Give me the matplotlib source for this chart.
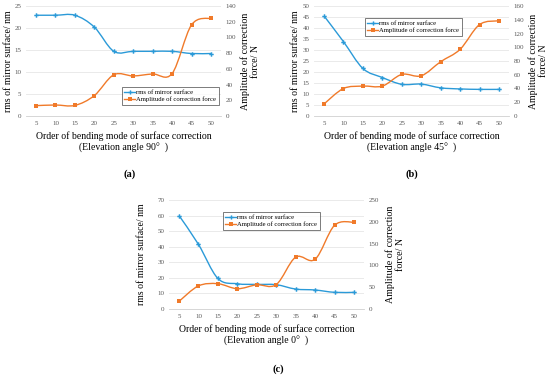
import matplotlib
matplotlib.use("Agg")
import matplotlib.pyplot as plt
import numpy as np
from matplotlib.path import Path
from matplotlib.patches import PathPatch
from matplotlib.lines import Line2D

plt.rcParams['font.family'] = ['Liberation Serif', 'DejaVu Serif']

orders = [5, 10, 15, 20, 25, 30, 35, 40, 45, 50]

rms_a = [22.9, 22.9, 22.9, 20.2, 14.7, 14.7, 14.7, 14.7, 14.2, 14.2]
force_a = [13.2, 14.0, 13.5, 26.0, 52.5, 51.0, 53.5, 54.0, 116.0, 124.5]
rms_b = [45.5, 33.8, 21.6, 17.5, 14.4, 14.5, 12.8, 12.3, 12.1, 12.1]
force_b = [17.5, 40.0, 43.5, 43.5, 60.5, 58.5, 79.0, 97.0, 133.0, 138.5]
rms_c = [60.0, 41.5, 19.6, 16.2, 15.8, 15.6, 12.8, 12.2, 10.7, 10.7]
force_c = [17.5, 53.0, 58.0, 46.5, 55.5, 56.0, 119.0, 114.0, 192.0, 199.0]

left_lims = [(0, 25, 5), (0, 50, 5), (0, 70, 10)]
right_lims = [(0, 140, 20), (0, 160, 20), (0, 250, 50)]
angles = ['90', '45', '0']
panel_labels = ['(a)', '(b)', '(c)']

BLUE = '#2B9AD8'
ORANGE = '#F07A2A'
GRID = '#E6E6E6'
TICKC = '#595959'

W, H = 550, 376
fig = plt.figure(figsize=(5.5, 3.76), dpi=100)


def smooth_path(xs, ys):
    xs = np.asarray(xs, float)
    ys = np.asarray(ys, float)
    n = len(xs)
    verts = [(xs[0], ys[0])]
    codes = [Path.MOVETO]
    for i in range(n - 1):
        p0 = np.array([xs[max(i - 1, 0)], ys[max(i - 1, 0)]])
        p1 = np.array([xs[i], ys[i]])
        p2 = np.array([xs[i + 1], ys[i + 1]])
        p3 = np.array([xs[min(i + 2, n - 1)], ys[min(i + 2, n - 1)]])
        c1 = p1 + (p2 - p0) / 6.0
        c2 = p2 - (p3 - p1) / 6.0
        verts += [tuple(c1), tuple(c2), tuple(p2)]
        codes += [Path.CURVE4] * 3
    return Path(verts, codes)


def make_panel(rect, rms, force, llim, rlim, angle, plabel, legpos, ylab_x, rlab_x, xl_y, pl_xy, rfs):
    x0, y0, x1, y1 = rect
    ax = fig.add_axes([x0 / W, 1 - y1 / H, (x1 - x0) / W, (y1 - y0) / H])
    ax2 = ax.twinx()
    xs = np.arange(len(orders))
    ax.set_xlim(-0.5, len(orders) - 0.5)
    ax.set_ylim(llim[0], llim[1])
    ax.set_yticks(np.arange(llim[0], llim[1] + 0.1, llim[2]))
    ax2.set_ylim(rlim[0], rlim[1])
    ax2.set_yticks(np.arange(rlim[0], rlim[1] + 0.1, rlim[2]))
    ax.set_xticks(xs)
    ax.set_xticklabels([str(o) for o in orders])
    for a in (ax, ax2):
        for s in a.spines.values():
            s.set_visible(False)
        a.tick_params(length=0, labelsize=5, colors=TICKC, pad=3.5)
    ax.spines['bottom'].set_visible(True)
    ax.spines['bottom'].set_color('#D0D0D0')
    ax.spines['bottom'].set_linewidth(0.6)
    ax.yaxis.grid(True, color=GRID, linewidth=0.6)
    ax.set_axisbelow(True)

    ax.add_patch(PathPatch(smooth_path(xs, rms), facecolor='none', edgecolor=BLUE, lw=1.0, zorder=3))
    ax.plot(xs, rms, linestyle='none', marker='P', markersize=3.2, color=BLUE, markeredgewidth=0, zorder=4)
    ax2.add_patch(PathPatch(smooth_path(xs, force), facecolor='none', edgecolor=ORANGE, lw=1.0, zorder=3))
    ax2.plot(xs, force, linestyle='none', marker='s', markersize=2.8, color=ORANGE, markeredgewidth=0, zorder=4)

    # labels
    cy = 1 - (y0 + y1) / 2 / H
    fig.text(ylab_x / W, cy, 'rms of mirror surface/ nm', rotation=90, ha='center', va='center', fontsize=7)
    fig.text(rlab_x / W, cy, 'Amplitude of correction\nforce/ N', rotation=90, ha='center', va='center',
             fontsize=rfs, linespacing=1.15, multialignment='center')
    cx = (x0 + x1) / 2 / W
    fig.text(cx, 1 - xl_y / H, 'Order of bending mode of surface correction', ha='center', va='center', fontsize=7)
    fig.text(cx, 1 - (xl_y + 12.5) / H, '(Elevation angle %s\u00b0  )' % angle, ha='center', va='center', fontsize=7)
    fig.text(pl_xy[0] / W, 1 - pl_xy[1] / H, plabel, ha='center', va='center', fontsize=7.5, fontweight='bold')

    handles = [Line2D([], [], color=BLUE, marker='P', markersize=3, markeredgewidth=0, lw=1.0),
               Line2D([], [], color=ORANGE, marker='s', markersize=2.6, markeredgewidth=0, lw=1.0)]
    lx0, ly0, lx1, ly1 = legpos
    leg = ax2.legend(handles, ['rms of mirror surface', 'Amplitude of correction force'],
                     loc='upper left', bbox_to_anchor=(lx0 / W, 1 - ly0 / H), bbox_transform=fig.transFigure,
                     fontsize=4.8, frameon=True, fancybox=False, borderpad=0.35, handlelength=1.6,
                     handletextpad=0.2, labelspacing=0.25, borderaxespad=0)
    leg.get_frame().set_edgecolor('#404040')
    leg.get_frame().set_linewidth(0.6)
    return ax, ax2


make_panel((26.3, 6, 220.7, 116), rms_a, force_a, left_lims[0], right_lims[0], angles[0], panel_labels[0],
           (122, 87, 217, 107), 9, 250, 136, (130, 174), 7.2)
make_panel((314.3, 6, 508.7, 116), rms_b, force_b, left_lims[1], right_lims[1], angles[1], panel_labels[1],
           (365, 18, 465, 37), 295, 538, 136, (412, 174), 7.0)
make_panel((169.3, 200, 363.7, 309), rms_c, force_c, left_lims[2], right_lims[2], angles[2], panel_labels[2],
           (223, 212, 323, 230), 141, 395, 329, (278, 369), 7.2)

fig.savefig('out.png', dpi=100)
